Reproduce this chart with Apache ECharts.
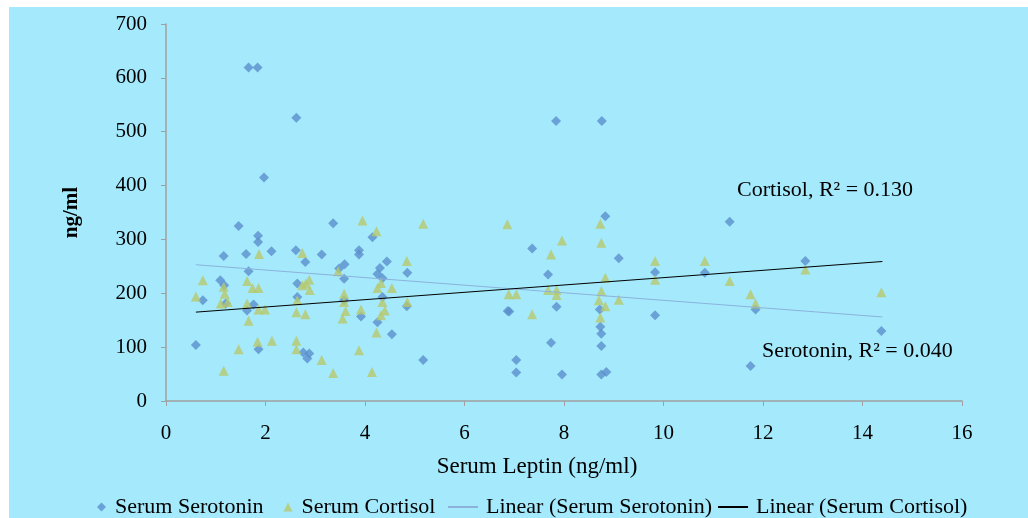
<!DOCTYPE html>
<html>
<head>
<meta charset="utf-8">
<script src="https://cdn.jsdelivr.net/npm/echarts@6/dist/echarts.min.js"></script>
<style>
    html, body { margin: 0; padding: 0; background: #fff; }
    #chart { position: absolute; left: 9px; top: 7px; width: 1019px; height: 511px; background: #a4eafc; }
</style>
</head>
<body>
<div id="chart"></div>
<script>
    // 数据：从图上估读
    var serotoninPoints = [
        [0.6, 104], [0.74, 187], [1.09, 224], [1.16, 269], [1.17, 215], [1.2, 181],
        [1.46, 325], [1.61, 273], [1.63, 168], [1.66, 241], [1.66, 619], [1.76, 179],
        [1.84, 619], [1.85, 307], [1.85, 295], [1.86, 96], [1.97, 415], [2.12, 278],
        [2.61, 280], [2.62, 526], [2.64, 218], [2.64, 193], [2.76, 90], [2.8, 258],
        [2.84, 79], [2.88, 88], [3.13, 272], [3.36, 330], [3.48, 246], [3.58, 227],
        [3.59, 254], [3.58, 187], [3.88, 280], [3.88, 272], [3.92, 157], [4.15, 304],
        [4.25, 236], [4.25, 146], [4.3, 247], [4.35, 228], [4.35, 193], [4.44, 259],
        [4.54, 124], [4.84, 176], [4.85, 238], [5.17, 76], [6.87, 167], [6.9, 166],
        [7.04, 76], [7.04, 53], [7.36, 283], [7.68, 235], [7.74, 108], [7.84, 520],
        [7.85, 175], [7.96, 49], [8.72, 170], [8.73, 138], [8.75, 125], [8.75, 102],
        [8.75, 49], [8.76, 520], [8.83, 343], [8.85, 54], [9.1, 265], [9.83, 239],
        [9.83, 159], [10.83, 238], [11.33, 333], [11.75, 65], [11.85, 170], [12.85, 260],
        [14.38, 130]
    ];
    var cortisolPoints = [
        [0.6, 194], [0.74, 224], [1.1, 181], [1.16, 212], [1.18, 199], [1.16, 56],
        [1.24, 184], [1.46, 96], [1.63, 223], [1.63, 181], [1.66, 149], [1.74, 210],
        [1.84, 110], [1.86, 210], [1.86, 170], [1.87, 273], [1.99, 170], [2.13, 112],
        [2.62, 165], [2.62, 112], [2.62, 96], [2.64, 187], [2.74, 275], [2.74, 215],
        [2.8, 161], [2.81, 218], [2.88, 225], [2.89, 206], [3.13, 76], [3.36, 52],
        [3.46, 241], [3.55, 153], [3.58, 199], [3.58, 184], [3.61, 167], [3.88, 94],
        [3.92, 170], [3.95, 335], [4.14, 54], [4.23, 315], [4.23, 127], [4.25, 210],
        [4.32, 219], [4.32, 159], [4.35, 184], [4.4, 168], [4.54, 210], [4.84, 260],
        [4.85, 184], [5.17, 329], [6.86, 328], [6.89, 198], [7.04, 198], [7.36, 161],
        [7.68, 206], [7.74, 272], [7.85, 206], [7.85, 197], [7.96, 298], [8.7, 187],
        [8.73, 329], [8.73, 155], [8.75, 294], [8.75, 204], [8.83, 229], [8.83, 176],
        [9.1, 188], [9.83, 260], [9.83, 225], [10.83, 260], [11.33, 223], [11.75, 198],
        [11.85, 181], [12.85, 244], [14.38, 202]
    ];
    // 趋势线端点
    var trendX = [0.6, 14.4];
    var serotoninTrend = [253, 156];
    var cortisolTrend = [165, 259];
    var xTicks = [0, 16, 2];
    var yTicks = [0, 700, 100];

    var serif = 'Liberation Serif';
    var chart = echarts.init(document.getElementById('chart'));
    var option = {
        backgroundColor: '#a4eafc',
        animation: false,
        textStyle: {fontFamily: serif, color: '#000'},
        grid: {
            left: 157,
            right: 66,
            top: 17,
            bottom: 117
        },
        legend: [
            {
                left: 83,
                top: 484,
                itemGap: 20,
                itemWidth: 9,
                itemHeight: 9,
                textStyle: {fontFamily: serif, fontSize: 22, color: '#000', padding: [0, 0, 0, 4]},
                data: [
                    {name: 'Serum Serotonin', icon: 'diamond'},
                    {name: 'Serum Cortisol', icon: 'triangle'}
                ]
            },
            {
                left: 434,
                top: 484,
                itemGap: 6,
                itemWidth: 30,
                itemHeight: 2,
                textStyle: {fontFamily: serif, fontSize: 22, color: '#000', padding: [0, 0, 0, 3]},
                data: [
                    {name: 'Linear (Serum Serotonin)', icon: 'rect'},
                    {name: 'Linear (Serum Cortisol)', icon: 'rect'}
                ]
            }
        ],
        xAxis: {
            type: 'value',
            min: xTicks[0],
            max: xTicks[1],
            interval: xTicks[2],
            axisLine: {lineStyle: {color: '#a0a0a0', width: 1.5}},
            axisTick: {show: true, length: 5, lineStyle: {color: '#a0a0a0'}},
            splitLine: {show: false},
            axisLabel: {fontFamily: serif, fontSize: 21, color: '#000', margin: 22}
        },
        yAxis: {
            type: 'value',
            min: yTicks[0],
            max: yTicks[1],
            interval: yTicks[2],
            name: 'ng/ml',
            nameLocation: 'middle',
            nameGap: 84,
            nameTextStyle: {fontFamily: serif, fontSize: 21, fontWeight: 'bold', color: '#000'},
            axisLine: {show: true, lineStyle: {color: '#a0a0a0', width: 1.5}},
            axisTick: {show: true, length: 5, lineStyle: {color: '#a0a0a0'}},
            splitLine: {show: false},
            axisLabel: {fontFamily: serif, fontSize: 21, color: '#000', margin: 19}
        },
        graphic: [
            {
                type: 'text', x: 537 - 9, y: 467 - 7,
                style: {text: 'Serum Leptin (ng/ml)', font: '23px "Liberation Serif"', fill: '#000', align: 'center', verticalAlign: 'middle'}
            },
            {
                type: 'text', x: 737 - 9, y: 190 - 7,
                style: {text: 'Cortisol, R² = 0.130', font: '22px "Liberation Serif"', fill: '#000', verticalAlign: 'middle'}
            },
            {
                type: 'text', x: 762 - 9, y: 351 - 7,
                style: {text: 'Serotonin, R² = 0.040', font: '22px "Liberation Serif"', fill: '#000', verticalAlign: 'middle'}
            }
        ],
        series: [
            {
                name: 'Serum Serotonin',
                type: 'scatter',
                symbol: 'diamond',
                symbolSize: 10,
                itemStyle: {color: '#5b8fcc'},
                data: serotoninPoints,
                z: 3
            },
            {
                name: 'Serum Cortisol',
                type: 'scatter',
                symbol: 'triangle',
                symbolSize: 10,
                itemStyle: {color: '#b6c86c'},
                data: cortisolPoints,
                z: 3
            },
            {
                name: 'Linear (Serum Serotonin)',
                type: 'line',
                showSymbol: false,
                itemStyle: {color: '#8cb2dc'},
                lineStyle: {color: '#8cb2dc', width: 1},
                data: [[trendX[0], serotoninTrend[0]], [trendX[1], serotoninTrend[1]]],
                z: 4
            },
            {
                name: 'Linear (Serum Cortisol)',
                type: 'line',
                showSymbol: false,
                itemStyle: {color: '#000'},
                lineStyle: {color: '#000', width: 1},
                data: [[trendX[0], cortisolTrend[0]], [trendX[1], cortisolTrend[1]]],
                z: 4
            }
        ]
    };
    chart.setOption(option);
</script>
</body>
</html>
